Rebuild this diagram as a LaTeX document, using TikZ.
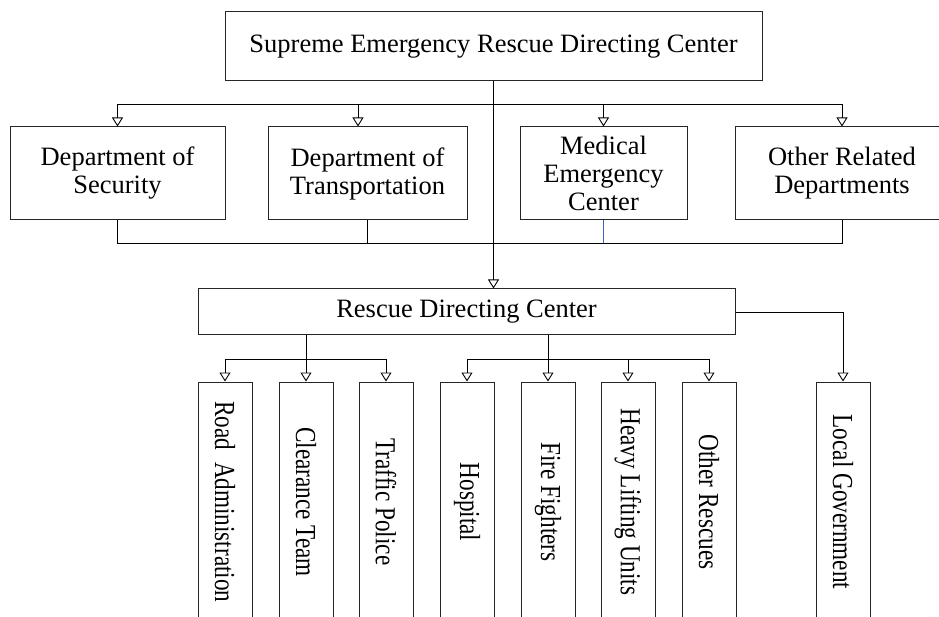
\documentclass[tikz,border=0pt]{standalone}
\usepackage{fontspec}
\setmainfont{Liberation Serif}
\usetikzlibrary{arrows.meta}
\newcommand{\boxfont}{\fontsize{26.5}{28}\selectfont}
\newcommand{\vfont}{\fontsize{29}{30}\selectfont}
\newcommand{\vtext}[1]{\rotatebox{-90}{\scalebox{0.8}[1]{\vfont #1}}}
\tikzset{
  box/.style={draw=black!85, line width=1pt, align=center, inner sep=0pt, font=\boxfont},
  vbox/.style={draw=black!85, line width=1pt, inner sep=0pt, minimum width=54pt, minimum height=240pt},
  arr/.style={-{Triangle[open,width=11pt,length=9pt]}, line width=0.9pt},
  link/.style={line width=0.9pt}
}
\begin{document}
\begin{tikzpicture}[x=1pt,y=-1pt]
    \useasboundingbox (0,0) rectangle (939,617);
    % top level
    \node[box, minimum width=537pt, minimum height=69pt] (sup) at (493.5,46.5) {Supreme Emergency Rescue Directing Center};
    % departments
    \node[box, minimum width=215pt, minimum height=93pt] (dsec) at (117.5,173.5) {Department of\\Security};
    \node[box, minimum width=199pt, minimum height=93pt] (dtra) at (367.5,173.5) {Department of\\Transportation};
    \node[box, minimum width=167pt, minimum height=93pt] (med) at (603.5,173.5) {Medical\\Emergency\\Center};
    \node[box, minimum width=214pt, minimum height=93pt] (oth) at (842,173.5) {Other Related\\Departments};
    \node[box, minimum width=537pt, minimum height=46pt] (rdc) at (466.5,312) {Rescue Directing Center};
    % rescue units
    \foreach \n/\x/\t in {road/225/Road\ \ Administration, clr/306/Clearance Team, trf/386/Traffic Police,
      hosp/467/Hospital, fire/548/Fire Fighters, lift/628/Heavy Lifting Units, ores/709/Other Rescues,
      loc/843/Local Government}
      \node[vbox] (\n) at (\x,502) {\vtext{\t}};
    \coordinate (t) at (0,104);
    \coordinate (b) at (0,243);
    \coordinate (m) at (0,359);
    % distribution to departments
    \draw[link] (dsec.north |- t) -- (oth.north |- t);
    \draw[arr] (dsec.north |- t) -- (dsec.north);
    \draw[arr] ([xshift=-9.5pt]dtra.north |- t) -- ([xshift=-9.5pt]dtra.north);
    \draw[arr] (med.north |- t) -- (med.north);
    \draw[arr] (oth.north |- t) -- (oth.north);
    % collecting line
    \draw[link] (dsec.south) -- (dsec.south |- b) -- (oth.south |- b) -- (oth.south);
    \draw[link] (dtra.south) -- (dtra.south |- b);
    \draw[line width=0.5pt, color={rgb,255:red,60;green,100;blue,190}] (med.south) -- (med.south |- b);
    \draw[arr] (sup.south) -- (sup.south |- rdc.north);
    % first group
    \draw[arr] (clr.north |- rdc.south) -- (clr.north);
    \draw[link] (road.north |- m) -- (trf.north |- m);
    \draw[arr] (road.north |- m) -- (road.north);
    \draw[arr] (trf.north |- m) -- (trf.north);
    % second group
    \draw[arr] (fire.north |- rdc.south) -- (fire.north);
    \draw[link] (hosp.north |- m) -- (ores.north |- m);
    \draw[arr] (hosp.north |- m) -- (hosp.north);
    \draw[arr] (lift.north |- m) -- (lift.north);
    \draw[arr] (ores.north |- m) -- (ores.north);
    \draw[arr] (rdc.east) -| (loc.north);
  \end{tikzpicture}
\end{document}
